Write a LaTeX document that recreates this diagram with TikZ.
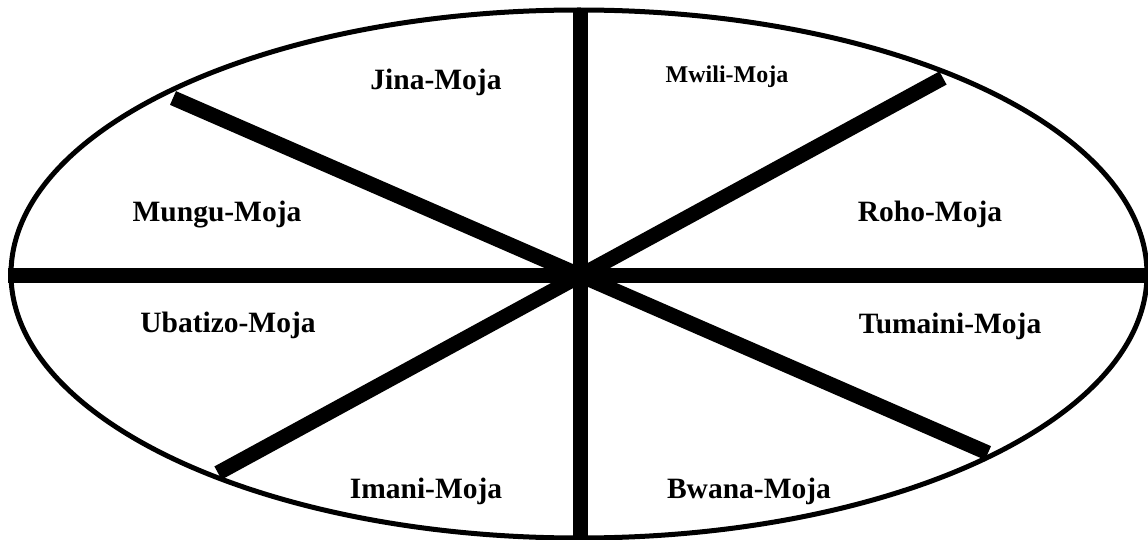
\documentclass[tikz,border=0pt]{standalone}
\usepackage{fontspec}
\setmainfont{Liberation Serif}
\begin{document}
\begin{tikzpicture}[x=1pt,y=-1pt,
  spoke/.style={line width=15pt,line cap=butt},
  rim/.style={line width=5pt},
  lbl/.style={anchor=base,inner sep=0pt,font=\fontsize{29.5}{32}\selectfont\bfseries},
  lblsmall/.style={anchor=base,inner sep=0pt,font=\fontsize{24}{27}\selectfont\bfseries}]
\useasboundingbox (0,0) rectangle (1148,540);
\draw[rim] (579,274) ellipse [x radius=568, y radius=264];
\coordinate (c) at (580,275);
\coordinate (w) at (8,275);
\coordinate (e) at (1150,275);
\coordinate (n) at (580,10);
\coordinate (s) at (580,542);
\coordinate (nw) at (173,98);
\coordinate (se) at (988,453);
\coordinate (ne) at (943,78);
\coordinate (sw) at (218,473);
\draw[spoke] (w) -- (e);
\draw[spoke] (n) -- (s);
\draw[spoke] (nw) -- (se);
\draw[spoke] (sw) -- (ne);
\node[lbl] (jina) at (436,90) {Jina-Moja};
\node[lblsmall] (mwili) at (727,83) {Mwili-Moja};
\node[lbl] (mungu) at (217,222) {Mungu-Moja};
\node[lbl] (roho) at (930,222) {Roho-Moja};
\node[lbl] (ubatizo) at (228,332) {Ubatizo-Moja};
\node[lbl] (tumaini) at (950,333) {Tumaini-Moja};
\node[lbl] (imani) at (426,498) {Imani-Moja};
\node[lbl] (bwana) at (749,498) {Bwana-Moja};
\end{tikzpicture}
\end{document}
